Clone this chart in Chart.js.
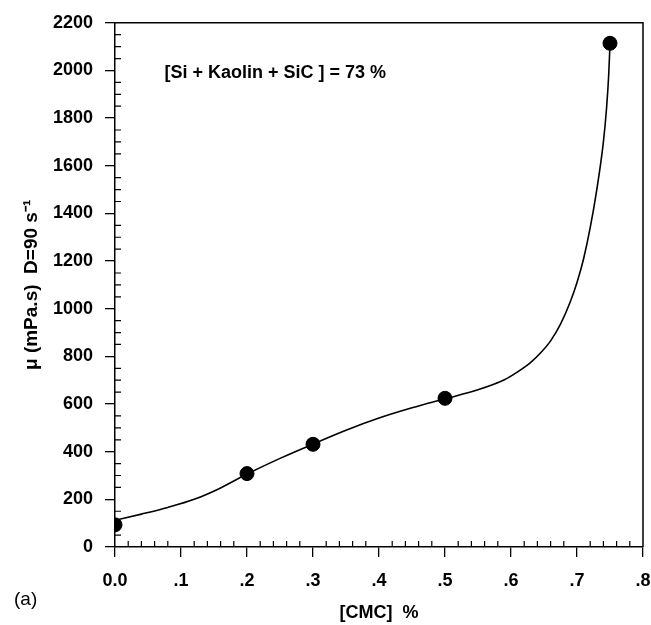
<!DOCTYPE html>
<html>
<head>
<meta charset="utf-8">
<script src="https://cdn.jsdelivr.net/npm/chart.js@4"></script>
<style>
    body { margin: 0; background: #fff; }
    #wrap { width: 651px; height: 625px; position: relative; }
</style>
</head>
<body>
<div id="wrap"><canvas id="viscChart"></canvas></div>
<script>
// Measured points: CMC content (%) vs viscosity at D = 90 s-1
const cmc = [0, 0.2, 0.3, 0.5, 0.75];
const viscosity = [93, 308, 431, 624, 2114];

// Smoothed trend curve through the measurements
const fitCmc = [0, 0.04, 0.08, 0.12, 0.16, 0.2, 0.25, 0.3, 0.35, 0.4, 0.45, 0.5, 0.55, 0.59,
    0.61, 0.63, 0.645, 0.66, 0.675, 0.69, 0.7, 0.71, 0.72, 0.73, 0.74, 0.745, 0.748, 0.75];
const fitVisc = [112, 138, 166, 200, 248, 306, 372, 432, 490, 541, 584, 622, 660, 702,
    735, 775, 815, 865, 935, 1030, 1110, 1210, 1340, 1500, 1700, 1850, 1980, 2110];

const xTickStep = 0.1, xMinorStep = 0.02;
const yTickStep = 200, yMinorStep = 50;
const annotation = "[Si + Kaolin + SiC ] = 73 %";
const panelLabel = "(a)";

const FONT = "'Liberation Sans', Arial, sans-serif";

// frame on top/right, inward minor ticks and the text labels
const frameAndMinorTicks = {
    id: 'frameAndMinorTicks',
    afterDraw(chart) {
        const { ctx, chartArea: a, scales: { x, y } } = chart;
        ctx.save();
        ctx.strokeStyle = '#000';
        ctx.lineWidth = 1.5;
        ctx.beginPath();
        ctx.moveTo(a.left, a.top);
        ctx.lineTo(a.right, a.top);
        ctx.lineTo(a.right, a.bottom);
        ctx.stroke();

        ctx.lineWidth = 1.2;
        ctx.beginPath();
        const nx = Math.round((x.max - x.min) / xMinorStep);
        const per = Math.round(xTickStep / xMinorStep);
        for (let i = 1; i < nx; i++) {
            if (i % per === 0) continue;
            const px = x.getPixelForValue(x.min + i * xMinorStep);
            ctx.moveTo(px, a.bottom);
            ctx.lineTo(px, a.bottom - 6);
        }
        const ny = Math.round((y.max - y.min) / yMinorStep);
        const perY = Math.round(yTickStep / yMinorStep);
        for (let i = 1; i < ny; i++) {
            if (i % perY === 0) continue;
            const py = y.getPixelForValue(y.min + i * yMinorStep);
            ctx.moveTo(a.left, py);
            ctx.lineTo(a.left + 6, py);
        }
        ctx.stroke();

        ctx.fillStyle = '#000';
        ctx.textBaseline = 'middle';
        ctx.textAlign = 'left';
        ctx.font = "bold 18px " + FONT;
        ctx.fillText(annotation, x.getPixelForValue(0.075), y.getPixelForValue(1990));
        ctx.font = "19px " + FONT;
        ctx.fillText(panelLabel, 14, 600);
        ctx.restore();
    }
};

const tickFont = { family: FONT, size: 18, weight: 'bold' };

new Chart(document.getElementById('viscChart'), {
    type: 'scatter',
    data: {
        datasets: [
            {
                label: 'fit',
                data: fitCmc.map((v, i) => ({ x: v, y: fitVisc[i] })),
                showLine: true,
                borderColor: '#000',
                borderWidth: 1.6,
                pointRadius: 0,
                cubicInterpolationMode: 'monotone',
                order: 2
            },
            {
                label: 'measured',
                data: cmc.map((v, i) => ({ x: v, y: viscosity[i] })),
                showLine: false,
                pointRadius: 7,
                pointBackgroundColor: '#000',
                pointBorderColor: '#000',
                order: 1
            }
        ]
    },
    options: {
        responsive: true,
        maintainAspectRatio: false,
        animation: false,
        layout: { padding: { top: 21, right: 7, left: 0, bottom: 0 } },
        plugins: {
            legend: { display: false },
            tooltip: { enabled: false }
        },
        scales: {
            x: {
                type: 'linear',
                min: 0,
                max: 0.8,
                afterFit(scale) {
                    scale.height = 78;
                    scale.paddingRight = 0;
                },
                grid: { drawOnChartArea: false, drawTicks: true, tickLength: 10, color: '#000', lineWidth: 1.3 },
                border: { display: true, color: '#000', width: 1.5 },
                ticks: {
                    stepSize: xTickStep,
                    color: '#000',
                    padding: 13,
                    maxRotation: 0,
                    font: tickFont,
                    callback: v => v === 0 ? '0.0' : (Math.round(v * 10) / 10).toFixed(1).replace(/^0/, '')
                },
                title: {
                    display: true,
                    text: '[CMC]  %',
                    color: '#000',
                    font: tickFont,
                    padding: { top: 0, bottom: 1 }
                }
            },
            y: {
                type: 'linear',
                min: 0,
                max: 2200,
                afterFit(scale) { scale.width = 115; },
                grid: { drawOnChartArea: false, drawTicks: true, tickLength: 10, color: '#000', lineWidth: 1.3 },
                border: { display: true, color: '#000', width: 1.5 },
                ticks: {
                    stepSize: yTickStep,
                    color: '#000',
                    padding: 12,
                    font: tickFont,
                    callback: v => String(v)
                },
                title: {
                    display: true,
                    text: 'μ (mPa.s)  D=90 s⁻¹',
                    color: '#000',
                    font: { family: FONT, size: 19, weight: 'bold' },
                    padding: { top: 20, bottom: 0 }
                }
            }
        }
    },
    plugins: [frameAndMinorTicks]
});
</script>
</body>
</html>
